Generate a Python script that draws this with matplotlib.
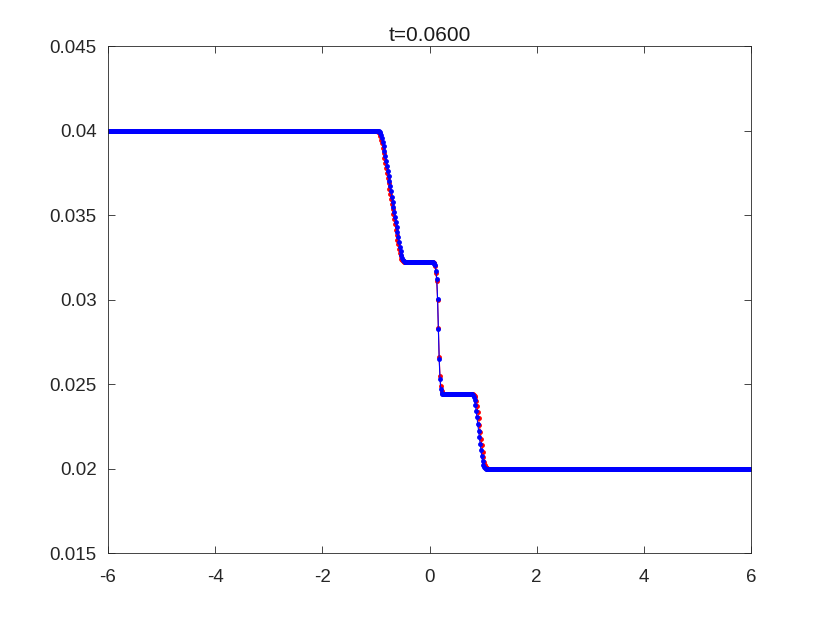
import matplotlib.pyplot as plt
import numpy as np

plt.rcParams['font.family'] = ['Liberation Sans', 'DejaVu Sans']
plt.rcParams['axes.unicode_minus'] = False

# grid of the solution (801 cells on [-6, 6])
x = np.linspace(-6, 6, 801)

# plateau states, left to right
levels = [0.04, 0.0322, 0.0244, 0.02]

# blue solution: (first x, values) for each transition
blue_fan_x0 = -1.005
blue_fan = [0.04000, 0.03999, 0.03999, 0.03998, 0.03996, 0.03993, 0.03986, 0.03974,
            0.03957, 0.03935, 0.03909, 0.03881, 0.03852, 0.03822, 0.03792, 0.03762,
            0.03731, 0.03701, 0.03671, 0.03640, 0.03610, 0.03580, 0.03550, 0.03519,
            0.03489, 0.03459, 0.03428, 0.03398, 0.03368, 0.03339, 0.03312, 0.03286,
            0.03264, 0.03246, 0.03234, 0.03227, 0.03224, 0.03222]
blue_contact_x0 = 0.06
blue_contact = [0.03220, 0.03218, 0.03213, 0.03205, 0.03170, 0.03124, 0.03006,
                0.02828, 0.02651, 0.02533, 0.02470, 0.02448, 0.02442, 0.02440]
blue_shock_x0 = 0.78
blue_shock = [0.02440, 0.02439, 0.02435, 0.02425, 0.02405, 0.02378, 0.02343,
              0.02305, 0.02265, 0.02225, 0.02185, 0.02145, 0.02108, 0.02073,
              0.02043, 0.02020, 0.02008, 0.02003, 0.02001, 0.02000]

# red solution
red_fan_x0 = -1.02
red_fan = [0.04000, 0.03999, 0.03998, 0.03997, 0.03994, 0.03989, 0.03980, 0.03966,
           0.03947, 0.03924, 0.03897, 0.03869, 0.03839, 0.03809, 0.03779, 0.03748,
           0.03718, 0.03688, 0.03657, 0.03627, 0.03597, 0.03566, 0.03536, 0.03506,
           0.03475, 0.03445, 0.03415, 0.03385, 0.03355, 0.03327, 0.03301, 0.03278,
           0.03258, 0.03242, 0.03232, 0.03226, 0.03223, 0.03221]
red_contact_x0 = 0.06
red_contact = [0.03220, 0.03219, 0.03215, 0.03200, 0.03160, 0.03110, 0.03000,
               0.02830, 0.02660, 0.02550, 0.02490, 0.02460, 0.02447, 0.02442]
red_shock_x0 = 0.78
red_shock = [0.02440, 0.02440, 0.02439, 0.02437, 0.02433, 0.02422, 0.02402,
             0.02372, 0.02336, 0.02297, 0.02257, 0.02217, 0.02177, 0.02138,
             0.02100, 0.02067, 0.02040, 0.02020, 0.02009, 0.02003, 0.02001]


def build(parts):
    y = np.empty_like(x)
    idx = 0
    for level, (x0, vals) in zip(levels, parts):
        i0 = int(np.searchsorted(x, x0 - 1e-9))
        y[idx:i0] = level
        y[i0:i0 + len(vals)] = vals
        idx = i0 + len(vals)
    y[idx:] = levels[-1]
    return y


y_red = build([(red_fan_x0, red_fan), (red_contact_x0, red_contact), (red_shock_x0, red_shock)])
y_blue = build([(blue_fan_x0, blue_fan), (blue_contact_x0, blue_contact), (blue_shock_x0, blue_shock)])

fig = plt.figure(figsize=(8.3, 6.23), dpi=100)
ax = fig.add_axes([0.13, 0.112, 0.775, 0.814])

ax.plot(x, y_red, 'r-', lw=0.8, marker='o', ms=3.5, mew=0)
ax.plot(x, y_blue, 'b-', lw=0.8, marker='o', ms=3.5, mew=0)

ax.set_xlim(-6, 6)
ax.set_ylim(0.015, 0.045)
ax.set_xticks(np.arange(-6, 7, 2))
ax.set_xticklabels(['-6', '-4', '-2', '0', '2', '4', '6'])
ax.set_yticks([0.015, 0.02, 0.025, 0.03, 0.035, 0.04, 0.045])
ax.set_yticklabels(['0.015', '0.02', '0.025', '0.03', '0.035', '0.04', '0.045'])

ax.tick_params(direction='in', top=True, right=True, length=5, width=0.6,
               labelsize=13.5, colors='0.15')
ax.tick_params(axis='y', pad=8)
ax.tick_params(axis='x', pad=11)
for s in ax.spines.values():
    s.set_color('0.15')
    s.set_linewidth(0.6)

ax.set_title('t=0.0600', fontsize=15, color='0.1', pad=4)

fig.savefig('out.png', dpi=100)
